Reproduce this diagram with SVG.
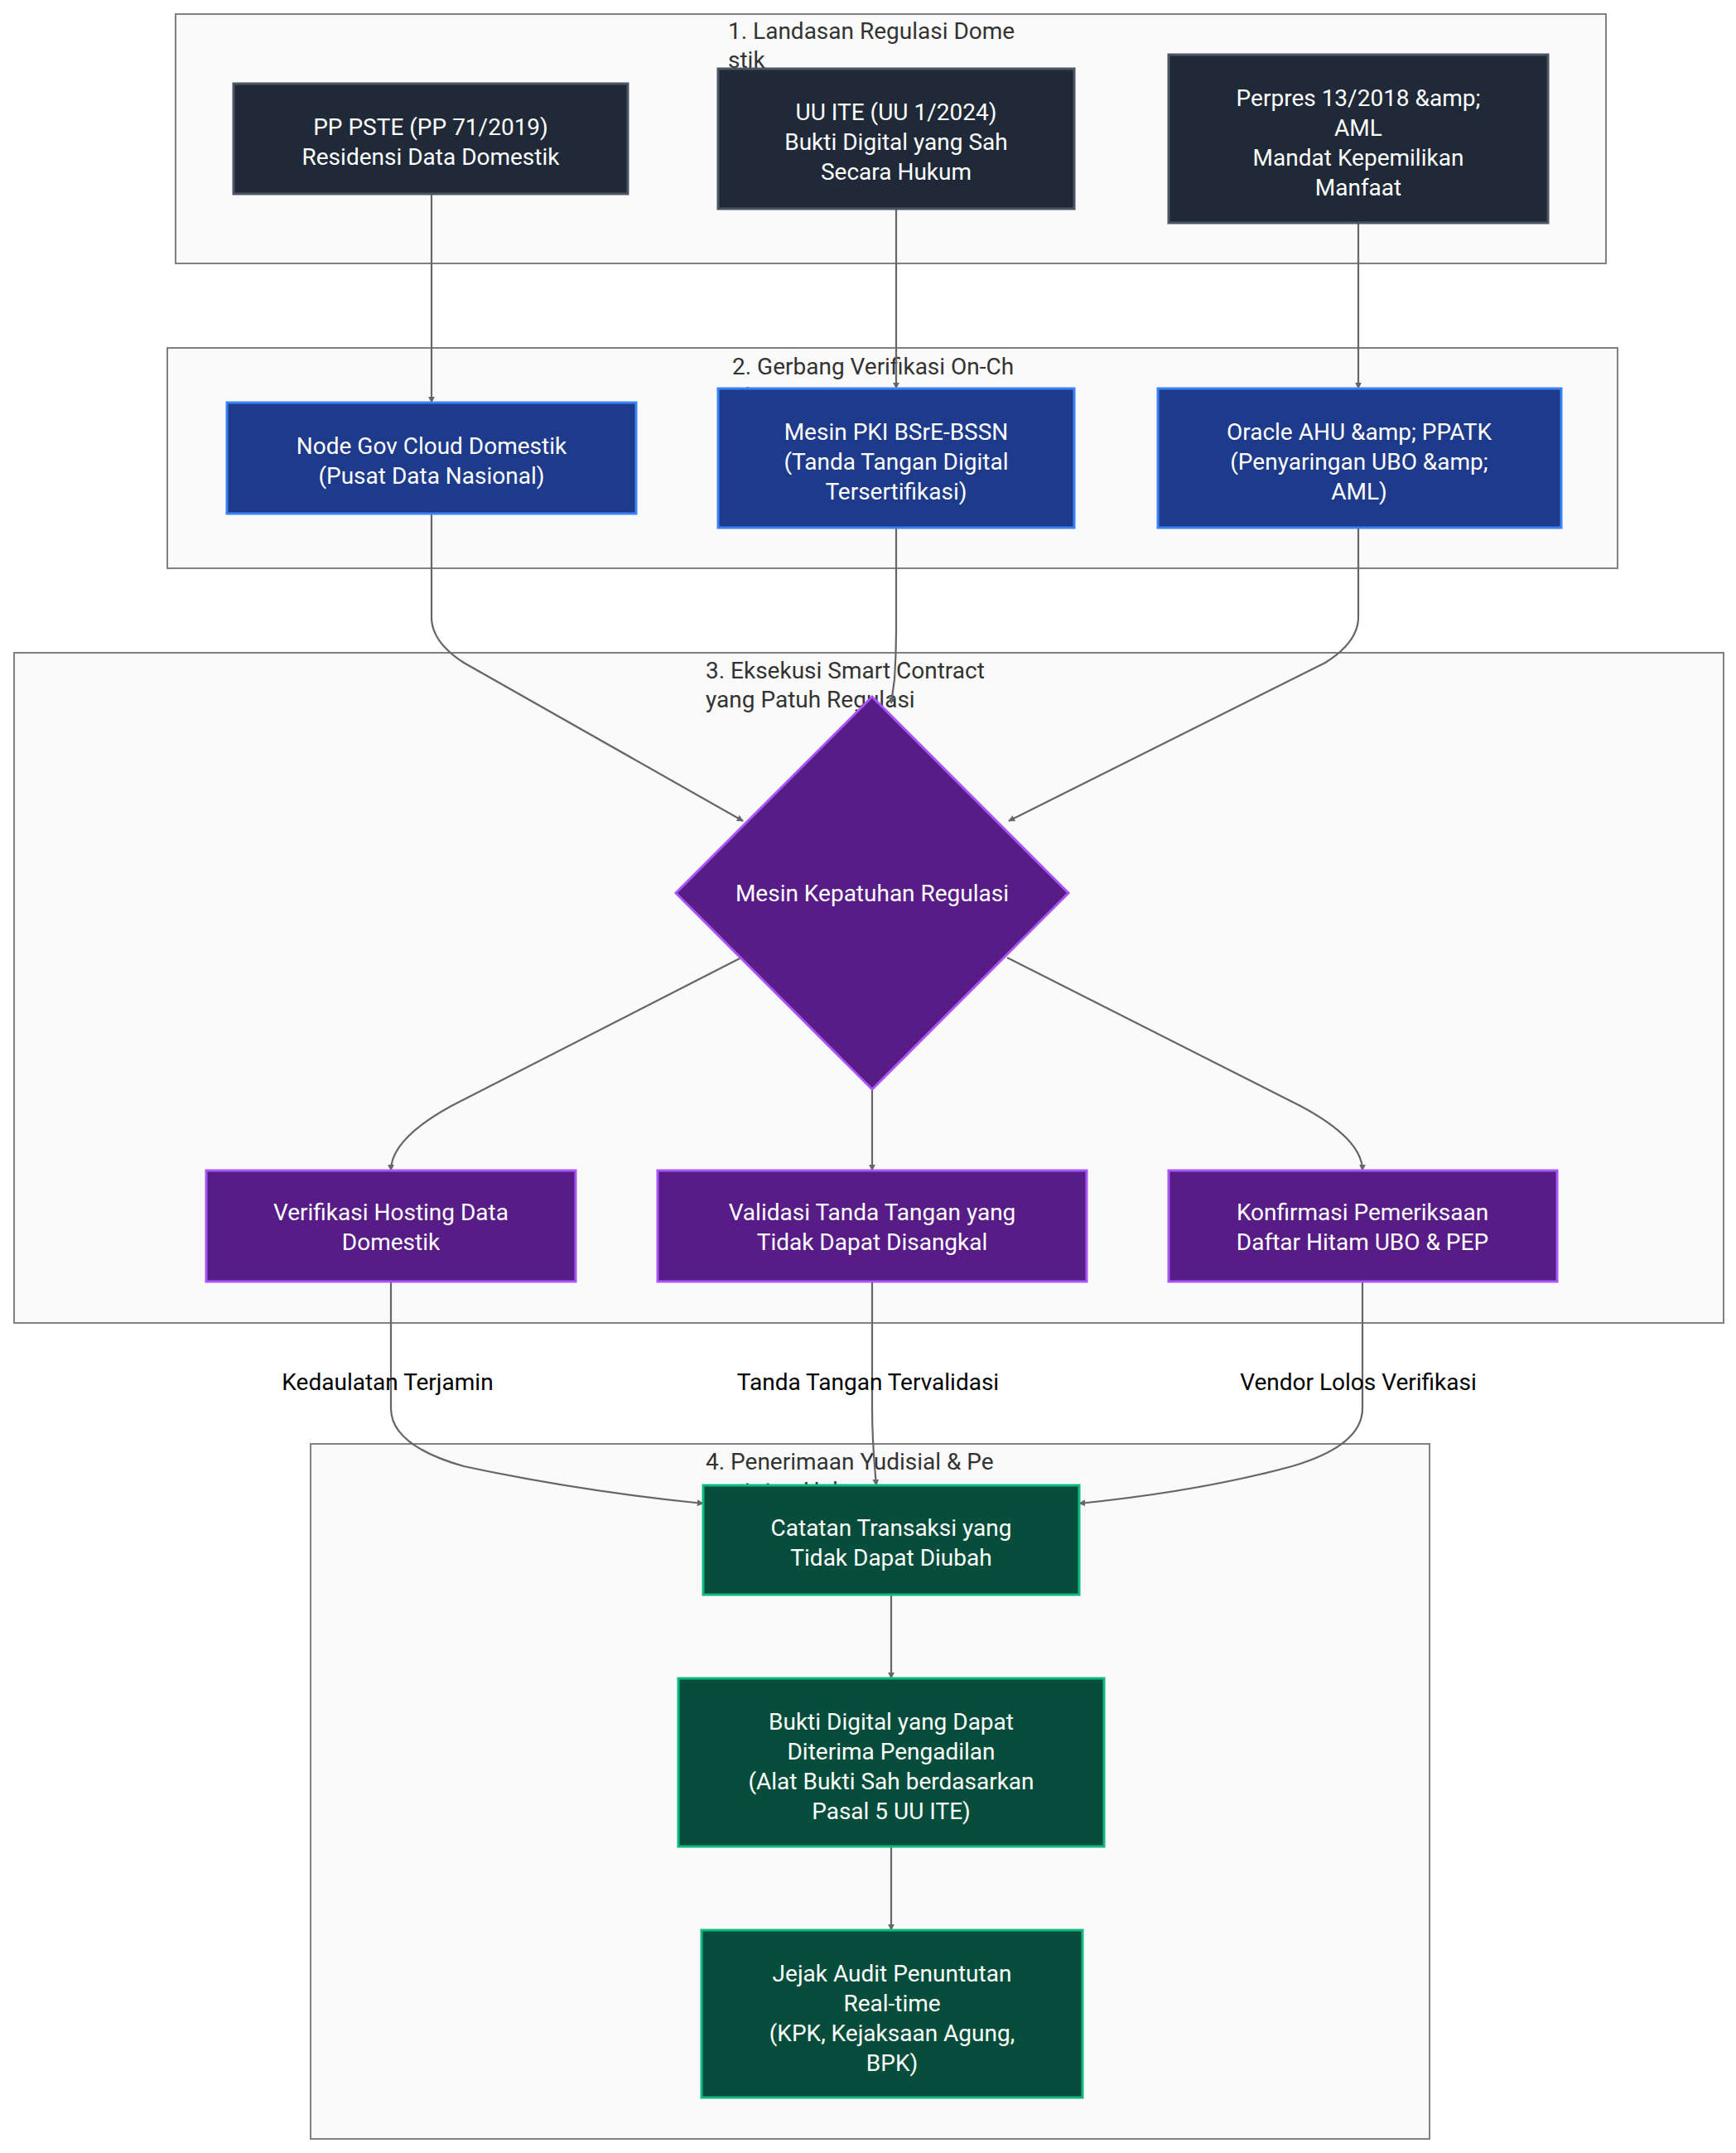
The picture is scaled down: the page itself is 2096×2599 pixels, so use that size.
<svg xmlns="http://www.w3.org/2000/svg" width="2096" height="2599" viewBox="0 0 2096 2599">
<style>
.cl{fill:#fafafa;stroke:#808080;stroke-width:2}
.ct{font-family:Roboto,"Liberation Sans",sans-serif;font-size:28px;fill:#333}
.t{font-family:Roboto,"Liberation Sans",sans-serif;font-size:28px;fill:#fff;text-anchor:middle}
.el{font-family:Roboto,"Liberation Sans",sans-serif;font-size:28px;fill:#000;text-anchor:middle}
.d{fill:#1f2937;stroke:#4b5563;stroke-width:3}
.b{fill:#1e3a8a;stroke:#3b82f6;stroke-width:3}
.p{fill:#581c87;stroke:#a855f7;stroke-width:3}
.g{fill:#064e3b;stroke:#10b981;stroke-width:3}
.e{fill:none;stroke:#666;stroke-width:2.2;marker-end:url(#ar)}
</style>
<defs><marker id="ar" viewBox="0 0 10 10" refX="9" refY="5" markerWidth="8" markerHeight="8" markerUnits="userSpaceOnUse" orient="auto"><path d="M0,0L10,5L0,10z" fill="#666"/></marker></defs>
<rect width="2096" height="2599" fill="#fff"/>
<g id="clusters">
<rect class="cl" x="212" y="17" width="1727" height="301"/>
<text class="ct" x="879" y="47">1. Landasan Regulasi Dome</text><text class="ct" x="879" y="82">stik</text>
<rect class="cl" x="202" y="420" width="1751" height="266"/>
<text class="ct" x="884" y="452">2. Gerbang Verifikasi On-Ch</text><text class="ct" x="884" y="487">ain</text>
<rect class="cl" x="17" y="788" width="2064" height="809"/>
<text class="ct" x="852" y="819">3. Eksekusi Smart Contract</text><text class="ct" x="852" y="854">yang Patuh Regulasi</text>
<rect class="cl" x="375" y="1743" width="1351" height="839"/>
<text class="ct" x="852" y="1774">4. Penerimaan Yudisial &amp; Pe</text><text class="ct" x="852" y="1809">nuntutan Hukum</text>
</g>
<g id="edges">
<path class="e" d="M521,234V486"/>
<path class="e" d="M1082,252V469"/>
<path class="e" d="M1640,269V469"/>
<path class="e" d="M521,620V745Q521,775 560,800L897,991"/>
<path class="e" d="M1082,637V760Q1082,790 1080,820L1076,849"/>
<path class="e" d="M1640,637V745Q1640,775 1600,800L1218,991"/>
<path class="e" d="M895,1156L545,1335Q472,1375 472,1413"/>
<path class="e" d="M1053,1315V1413"/>
<path class="e" d="M1216,1156L1570,1335Q1645,1375 1645,1413"/>
<path class="e" d="M472,1547V1700Q472,1745 560,1770Q700,1800 849,1815"/>
<path class="e" d="M1053,1547V1700Q1053,1740 1058,1793"/>
<path class="e" d="M1645,1547V1700Q1645,1745 1560,1770Q1450,1800 1303,1815"/>
<path class="e" d="M1076,1925V2026"/>
<path class="e" d="M1076,2229V2330"/>
<text class="el" x="468" y="1678">Kedaulatan Terjamin</text>
<text class="el" x="1048" y="1678">Tanda Tangan Tervalidasi</text>
<text class="el" x="1640" y="1678">Vendor Lolos Verifikasi</text>
</g>
<g id="n1"><rect class="d" x="282" y="101" width="476" height="133"/><text class="t" x="520" y="163">PP PSTE (PP 71/2019)</text><text class="t" x="520" y="199">Residensi Data Domestik</text></g>
<g id="n2"><rect class="d" x="867" y="83" width="430" height="169"/><text class="t" x="1082" y="145">UU ITE (UU 1/2024)</text><text class="t" x="1082" y="181">Bukti Digital yang Sah</text><text class="t" x="1082" y="217">Secara Hukum</text></g>
<g id="n3"><rect class="d" x="1411" y="66" width="458" height="203"/><text class="t" x="1640" y="128">Perpres 13/2018 &amp;amp;</text><text class="t" x="1640" y="164">AML</text><text class="t" x="1640" y="200">Mandat Kepemilikan</text><text class="t" x="1640" y="236">Manfaat</text></g>
<g id="n4"><rect class="b" x="274" y="486" width="494" height="134"/><text class="t" x="521" y="548">Node Gov Cloud Domestik</text><text class="t" x="521" y="584">(Pusat Data Nasional)</text></g>
<g id="n5"><rect class="b" x="867" y="469" width="430" height="168"/><text class="t" x="1082" y="531">Mesin PKI BSrE-BSSN</text><text class="t" x="1082" y="567">(Tanda Tangan Digital</text><text class="t" x="1082" y="603">Tersertifikasi)</text></g>
<g id="n6"><rect class="b" x="1398" y="469" width="487" height="168"/><text class="t" x="1641" y="531">Oracle AHU &amp;amp; PPATK</text><text class="t" x="1641" y="567">(Penyaringan UBO &amp;amp;</text><text class="t" x="1641" y="603">AML)</text></g>
<g id="n7"><path class="p" d="M1053,841L1290,1078L1053,1315L816,1078Z"/><text class="t" x="1053" y="1088">Mesin Kepatuhan Regulasi</text></g>
<g id="n8"><rect class="p" x="249" y="1413" width="446" height="134"/><text class="t" x="472" y="1473">Verifikasi Hosting Data</text><text class="t" x="472" y="1509">Domestik</text></g>
<g id="n9"><rect class="p" x="794" y="1413" width="518" height="134"/><text class="t" x="1053" y="1473">Validasi Tanda Tangan yang</text><text class="t" x="1053" y="1509">Tidak Dapat Disangkal</text></g>
<g id="n10"><rect class="p" x="1411" y="1413" width="469" height="134"/><text class="t" x="1645" y="1473">Konfirmasi Pemeriksaan</text><text class="t" x="1645" y="1509">Daftar Hitam UBO &amp; PEP</text></g>
<g id="n11"><rect class="g" x="849" y="1793" width="454" height="132"/><text class="t" x="1076" y="1854">Catatan Transaksi yang</text><text class="t" x="1076" y="1890">Tidak Dapat Diubah</text></g>
<g id="n12"><rect class="g" x="819" y="2026" width="514" height="203"/><text class="t" x="1076" y="2088">Bukti Digital yang Dapat</text><text class="t" x="1076" y="2124">Diterima Pengadilan</text><text class="t" x="1076" y="2160">(Alat Bukti Sah berdasarkan</text><text class="t" x="1076" y="2196">Pasal 5 UU ITE)</text></g>
<g id="n13"><rect class="g" x="847" y="2330" width="460" height="202"/><text class="t" x="1077" y="2392">Jejak Audit Penuntutan</text><text class="t" x="1077" y="2428">Real-time</text><text class="t" x="1077" y="2464">(KPK, Kejaksaan Agung,</text><text class="t" x="1077" y="2500">BPK)</text></g>
</svg>
